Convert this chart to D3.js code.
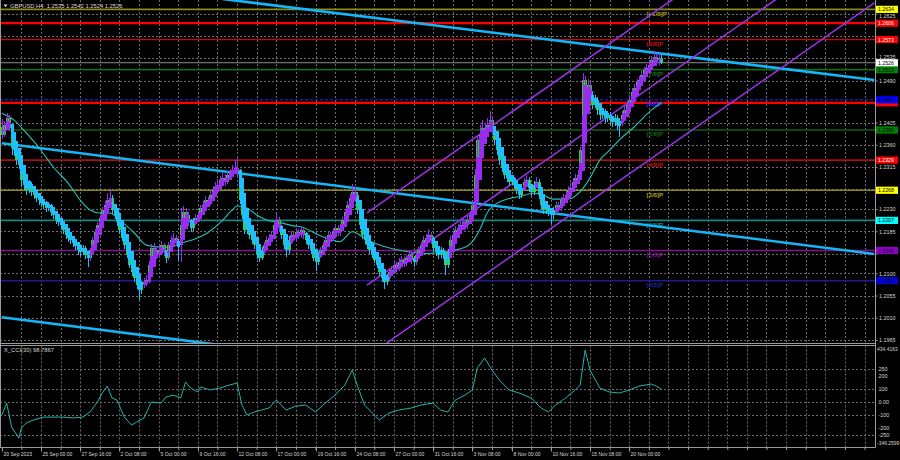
<!DOCTYPE html>
<html><head><meta charset="utf-8">
<script src="https://cdn.jsdelivr.net/npm/d3@7"></script>
<style>html,body{margin:0;padding:0;background:#000;}svg{display:block;}</style>
</head><body>
<svg id="c" width="900" height="460"></svg>
<script>
// ---------------- DATA ----------------
const symbolTitle = "GBPUSD,H4  1.2535 1.2542 1.2524 1.2526";
const cciTitle = "X_CCI(30) 98.7867";
const firstOpen = 1.2395;
const closes = [
1.2380,1.2400,1.2414,1.2394,1.2354,1.2349,1.2329,1.2319,1.2289,1.2279,
1.2269,1.2279,1.2265,1.2259,1.2253,1.2248,1.2242,1.2238,1.2232,1.2236,
1.2224,1.2218,1.2208,1.2204,1.2198,1.2188,1.2178,1.2172,1.2168,1.2162,
1.2155,1.2147,1.2143,1.2151,1.2137,1.2131,1.2147,1.2168,1.2184,1.2198,
1.2212,1.2228,1.2238,1.2248,1.2253,1.2228,1.2218,1.2204,1.2188,1.2172,
1.2157,1.2137,1.2117,1.2103,1.2091,1.2077,1.2067,1.2077,1.2083,1.2087,
1.2117,1.2151,1.2147,1.2137,1.2147,1.2157,1.2143,1.2131,1.2157,1.2168,
1.2172,1.2164,1.2157,1.2198,1.2224,1.2218,1.2204,1.2192,1.2204,1.2212,
1.2218,1.2232,1.2238,1.2248,1.2244,1.2259,1.2269,1.2275,1.2279,1.2289,
1.2293,1.2285,1.2299,1.2305,1.2309,1.2313,1.2305,1.2248,1.2218,1.2188,
1.2192,1.2178,1.2168,1.2157,1.2137,1.2131,1.2147,1.2157,1.2168,1.2172,
1.2178,1.2198,1.2208,1.2192,1.2178,1.2157,1.2147,1.2168,1.2178,1.2172,
1.2184,1.2178,1.2188,1.2178,1.2168,1.2157,1.2147,1.2131,1.2123,1.2137,
1.2147,1.2157,1.2168,1.2178,1.2172,1.2184,1.2192,1.2184,1.2192,1.2208,
1.2224,1.2238,1.2253,1.2265,1.2259,1.2228,1.2198,1.2178,1.2168,1.2157,
1.2147,1.2137,1.2127,1.2117,1.2103,1.2091,1.2083,1.2091,1.2103,1.2107,
1.2117,1.2111,1.2123,1.2127,1.2121,1.2131,1.2137,1.2127,1.2123,1.2137,
1.2147,1.2157,1.2168,1.2172,1.2178,1.2168,1.2151,1.2143,1.2137,1.2147,
1.2137,1.2117,1.2143,1.2168,1.2178,1.2188,1.2192,1.2198,1.2204,1.2198,
1.2208,1.2218,1.2238,1.2299,1.2370,1.2380,1.2394,1.2390,1.2400,1.2410,
1.2390,1.2370,1.2349,1.2329,1.2313,1.2299,1.2293,1.2285,1.2289,1.2279,
1.2269,1.2259,1.2273,1.2285,1.2289,1.2273,1.2265,1.2279,1.2285,1.2259,
1.2238,1.2228,1.2232,1.2224,1.2218,1.2228,1.2238,1.2232,1.2248,1.2253,
1.2259,1.2269,1.2273,1.2285,1.2293,1.2299,1.2349,1.2491,1.2471,1.2481,
1.2461,1.2441,1.2451,1.2430,1.2420,1.2426,1.2414,1.2420,1.2410,1.2406,
1.2414,1.2400,1.2406,1.2420,1.2430,1.2441,1.2451,1.2467,1.2475,1.2487,
1.2491,1.2501,1.2511,1.2515,1.2521,1.2532,1.2538,1.2532,1.2535,1.2526];
const highs = [
1.2412,1.2408,1.2424,1.2420,1.2398,1.2362,1.2355,1.2336,1.2324,1.2296,
1.2284,1.2288,1.2285,1.2272,1.2266,1.2260,1.2255,1.2250,1.2246,1.2244,
1.2240,1.2230,1.2224,1.2215,1.2210,1.2204,1.2194,1.2185,1.2180,1.2174,
1.2168,1.2160,1.2154,1.2158,1.2156,1.2142,1.2152,1.2174,1.2190,1.2204,
1.2218,1.2234,1.2246,1.2262,1.2270,1.2258,1.2236,1.2224,1.2210,1.2194,
1.2178,1.2163,1.2143,1.2124,1.2110,1.2097,1.2082,1.2085,1.2090,1.2096,
1.2124,1.2160,1.2162,1.2152,1.2156,1.2166,1.2162,1.2148,1.2164,1.2176,
1.2182,1.2178,1.2170,1.2232,1.2236,1.2232,1.2224,1.2210,1.2212,1.2220,
1.2226,1.2238,1.2246,1.2256,1.2254,1.2266,1.2276,1.2284,1.2290,1.2296,
1.2302,1.2300,1.2306,1.2312,1.2320,1.2330,1.2335,1.2310,1.2256,1.2224,
1.2200,1.2198,1.2184,1.2175,1.2162,1.2142,1.2154,1.2164,1.2175,1.2180,
1.2186,1.2206,1.2222,1.2214,1.2198,1.2184,1.2162,1.2175,1.2186,1.2184,
1.2192,1.2190,1.2196,1.2192,1.2184,1.2174,1.2163,1.2152,1.2138,1.2144,
1.2154,1.2164,1.2175,1.2186,1.2184,1.2192,1.2200,1.2198,1.2200,1.2214,
1.2230,1.2246,1.2260,1.2280,1.2274,1.2264,1.2234,1.2204,1.2184,1.2174,
1.2163,1.2153,1.2143,1.2133,1.2123,1.2109,1.2097,1.2098,1.2110,1.2115,
1.2124,1.2122,1.2130,1.2134,1.2132,1.2138,1.2145,1.2142,1.2134,1.2144,
1.2154,1.2164,1.2175,1.2180,1.2190,1.2184,1.2174,1.2158,1.2150,1.2154,
1.2152,1.2142,1.2150,1.2175,1.2186,1.2196,1.2200,1.2206,1.2212,1.2210,
1.2216,1.2226,1.2246,1.2310,1.2380,1.2400,1.2410,1.2405,1.2415,1.2428,
1.2418,1.2396,1.2376,1.2355,1.2335,1.2320,1.2306,1.2300,1.2296,1.2294,
1.2284,1.2274,1.2280,1.2292,1.2298,1.2294,1.2280,1.2286,1.2294,1.2290,
1.2264,1.2244,1.2240,1.2238,1.2230,1.2235,1.2245,1.2244,1.2255,1.2260,
1.2266,1.2276,1.2282,1.2292,1.2300,1.2308,1.2356,1.2505,1.2500,1.2494,
1.2488,1.2468,1.2460,1.2456,1.2438,1.2434,1.2432,1.2428,1.2426,1.2418,
1.2422,1.2420,1.2414,1.2428,1.2438,1.2448,1.2460,1.2474,1.2484,1.2494,
1.2500,1.2510,1.2518,1.2524,1.2530,1.2540,1.2550,1.2546,1.2546,1.2542];
const lows = [
1.2372,1.2375,1.2396,1.2388,1.2340,1.2338,1.2320,1.2310,1.2275,1.2268,
1.2258,1.2262,1.2256,1.2250,1.2245,1.2238,1.2234,1.2230,1.2224,1.2226,
1.2216,1.2209,1.2200,1.2196,1.2190,1.2180,1.2170,1.2164,1.2160,1.2153,
1.2147,1.2138,1.2134,1.2136,1.2128,1.2112,1.2125,1.2142,1.2162,1.2178,
1.2192,1.2206,1.2222,1.2232,1.2240,1.2220,1.2210,1.2196,1.2180,1.2165,
1.2150,1.2130,1.2110,1.2095,1.2083,1.2068,1.2045,1.2058,1.2070,1.2074,
1.2080,1.2112,1.2138,1.2128,1.2130,1.2140,1.2134,1.2120,1.2126,1.2150,
1.2160,1.2156,1.2125,1.2122,1.2190,1.2208,1.2195,1.2184,1.2186,1.2198,
1.2205,1.2212,1.2226,1.2232,1.2236,1.2238,1.2252,1.2262,1.2268,1.2272,
1.2282,1.2276,1.2280,1.2292,1.2298,1.2302,1.2296,1.2240,1.2210,1.2180,
1.2180,1.2170,1.2160,1.2150,1.2128,1.2122,1.2126,1.2140,1.2150,1.2160,
1.2164,1.2172,1.2192,1.2184,1.2170,1.2150,1.2132,1.2140,1.2160,1.2165,
1.2166,1.2170,1.2172,1.2170,1.2160,1.2150,1.2140,1.2124,1.2105,1.2116,
1.2130,1.2140,1.2150,1.2160,1.2165,1.2166,1.2176,1.2176,1.2176,1.2186,
1.2202,1.2218,1.2232,1.2246,1.2250,1.2220,1.2190,1.2170,1.2160,1.2150,
1.2140,1.2130,1.2120,1.2110,1.2095,1.2083,1.2068,1.2076,1.2085,1.2096,
1.2100,1.2102,1.2105,1.2116,1.2113,1.2114,1.2124,1.2118,1.2112,1.2116,
1.2130,1.2140,1.2150,1.2160,1.2165,1.2160,1.2144,1.2135,1.2128,1.2130,
1.2128,1.2097,1.2110,1.2138,1.2160,1.2170,1.2180,1.2185,1.2190,1.2190,
1.2190,1.2200,1.2210,1.2232,1.2292,1.2360,1.2372,1.2378,1.2382,1.2392,
1.2380,1.2360,1.2340,1.2320,1.2304,1.2290,1.2284,1.2276,1.2278,1.2270,
1.2260,1.2250,1.2252,1.2266,1.2278,1.2265,1.2256,1.2258,1.2272,1.2250,
1.2230,1.2220,1.2220,1.2215,1.2200,1.2210,1.2220,1.2224,1.2226,1.2240,
1.2246,1.2252,1.2262,1.2266,1.2278,1.2286,1.2292,1.2340,1.2462,1.2464,
1.2452,1.2432,1.2434,1.2420,1.2410,1.2412,1.2405,1.2406,1.2400,1.2396,
1.2398,1.2390,1.2375,1.2398,1.2412,1.2422,1.2432,1.2444,1.2460,1.2468,
1.2480,1.2484,1.2494,1.2504,1.2508,1.2514,1.2524,1.2520,1.2522,1.2524];

// moving average: bar index / value
const maIdx = [0,5,10,16,21,27,32,36,40,44,48,54,59,65,69,73,78,84,89,94,96,100,104,108,114,119,122,130,138,143,149,156,165,173,182,190,192,195,198,201,206,211,217,220,225,231,236,240,244,248,252,258,265,269];
const maVal = [1.2424,1.2410,1.2384,1.2349,1.2315,1.2283,1.2248,1.2228,1.2222,1.2222,1.2208,1.2182,1.2157,1.2153,1.2153,1.2161,1.2168,1.2182,1.2202,1.2228,1.2236,1.2232,1.2218,1.2208,1.2202,1.2196,1.2194,1.2176,1.2164,1.2184,1.2168,1.2154,1.2144,1.2140,1.2144,1.2155,1.2164,1.2188,1.2222,1.2238,1.2250,1.2255,1.2262,1.2260,1.2250,1.2250,1.2265,1.2293,1.2329,1.2349,1.2370,1.2396,1.2430,1.2445];

// CCI(30): bar index / value
const cciIdx = [0,2,4,7,8,10,13,17,21,25,29,33,36,39,41,43,45,47,50,53,55,58,61,65,67,70,73,75,77,80,81,85,89,93,96,98,100,103,106,109,112,116,120,124,128,132,136,140,143,145,148,154,158,162,167,171,176,179,182,185,189,192,194,197,200,203,207,211,216,220,223,226,230,234,236,238,240,244,248,252,256,260,265,267,269];
const cciVal = [-99,-8,-191,-275,-198,-160,-137,-115,-115,-115,-122,-115,-76,0,69,122,31,15,-115,-176,-153,-122,0,-8,38,53,31,153,107,76,115,92,107,130,145,-23,-99,-76,-61,-46,15,-61,-31,-23,-76,-8,53,130,244,130,-23,-137,-84,-61,-46,-23,-8,-61,-76,15,53,92,260,336,244,168,92,69,31,-46,-76,-23,31,92,130,397,244,107,76,69,92,122,137,122,98.8];

// price axis tick values (grid)
const priceTicks = [1.2625,1.2580,1.2535,1.2490,1.2445,1.2405,1.2360,1.2315,1.2270,1.2230,1.2185,1.2140,1.2100,1.2055,1.2010,1.1965];
// time axis labels (one every 16 H4 bars, starting at first bar)
const timeLabels = ["20 Sep 2023","25 Sep 00:00","27 Sep 16:00","2 Oct 08:00","5 Oct 00:00","9 Oct 16:00","12 Oct 08:00","17 Oct 00:00","19 Oct 16:00","24 Oct 08:00","27 Oct 00:00","31 Oct 16:00","3 Nov 08:00","8 Nov 00:00","10 Nov 16:00","15 Nov 08:00","20 Nov 00:00"];
// CCI axis labels
const cciTicks = [434.4163,250,200,100,0,-100,-200,-250,-346.2599];
const cciTickText = ["434.4163","250","200","100","0.00","-100","-200","-250","-346.2599"];
const cciLevels = [250,100,0,-100,-250];

// Murray math levels
const murrayVals = [1.2085,1.2146,1.2207,1.2268,1.2329,1.2390,1.2451,1.2512,1.2573,1.2634];
const murrayNames = ["[0/8]P","[1/8]P","[2/8]P","[3/8]P","[4/8]P","[5/8]P","[6/8]P","[7/8]P","[8/8]P","[+1/8]P"];
// manual horizontal levels
const redLevels = [1.2606, 1.2445];
const lastPrice = 1.2526;

// trend lines: [startIdx, startPrice, endIdx, endPrice]
const trendLines = [[90,1.2655,356,1.2491],[0,1.2363,356,1.2139],[0,1.2011,356,1.1787]];
const channelLines = [[149,1.2222,356,1.2939],[149,1.2076,356,1.2793],[149,1.1931,356,1.2647]];

// ---------------- STYLE ----------------
const murrayLineColors = ["#1c1c8c","#85128c","#138585","#8a8a14","#a61010","#135c13","#2828ff","#146a14","#b01212","#8a8a14"];
const murrayBoxColors  = ["#0000e0","#9000c8","#00ffff","#ffff00","#ff0000","#008000","#0000ff","#008000","#ff0000","#ffff00"];
const murrayBoxText    = ["#000","#000","#000","#000","#fff","#000","#000","#000","#fff","#000"];
const murrayTextColors = ["#20209a","#80108a","#128080","#a0a010","#c01010","#176017","#2a2aff","#1a6e1a","#c01010","#a0a010"];
const FONT = "'Liberation Sans', Arial, sans-serif";
const AXF = 5.4;
const UP="#9a2cf2", DOWN="#1ec0ff", REAL="#2ed12e";

// ---------------- LAYOUT ----------------
const svg = d3.select("#c");
const plotR = 875.5, mainB = 343, cciT = 345.5, cciB = 447.5;
const x = d3.scaleLinear().domain([0,269]).range([1.78, 1.78+269*2.451]);
const y = d3.scaleLinear().domain([1.1965,1.2535]).range([340,58.3]);
const yc = d3.scaleLinear().domain([-346.2599,434.4163]).range([447.4,345.1]);

svg.append("rect").attr("width",900).attr("height",460).attr("fill","#000");
const defs = svg.append("defs");
defs.append("clipPath").attr("id","cm").append("rect").attr("x",0).attr("y",0).attr("width",plotR).attr("height",mainB);
defs.append("clipPath").attr("id","cc").append("rect").attr("x",0).attr("y",cciT).attr("width",plotR).attr("height",cciB-cciT);

const main = svg.append("g").attr("clip-path","url(#cm)");
const cci = svg.append("g").attr("clip-path","url(#cc)");

// grid
const gridIdx = d3.range(8, 356, 8);
const gridColor = "#6c6c6c";
[ [main,0,mainB], [cci,cciT,cciB] ].forEach(([g,t,b])=>{
  g.append("g").selectAll("line").data(gridIdx).join("line")
   .attr("x1",d=>Math.round(x(d))+0.5).attr("x2",d=>Math.round(x(d))+0.5)
   .attr("y1",t).attr("y2",b).attr("stroke",gridColor).attr("stroke-width",1).attr("stroke-dasharray","2,2");
});
main.append("g").selectAll("line").data(priceTicks).join("line")
  .attr("x1",0).attr("x2",plotR).attr("y1",d=>Math.round(y(d))+0.5).attr("y2",d=>Math.round(y(d))+0.5)
  .attr("stroke",gridColor).attr("stroke-dasharray","2,2");
cci.append("g").selectAll("line").data(cciLevels).join("line")
  .attr("x1",0).attr("x2",plotR).attr("y1",d=>Math.round(yc(d))+0.5).attr("y2",d=>Math.round(yc(d))+0.5)
  .attr("stroke",gridColor).attr("stroke-dasharray","2,2");

// Murray lines
main.append("g").selectAll("line").data(murrayVals).join("line")
  .attr("x1",0).attr("x2",plotR).attr("y1",d=>y(d)).attr("y2",d=>y(d))
  .attr("stroke",(d,i)=>murrayLineColors[i]).attr("stroke-width",(d,i)=> i===6?1:1.6)
  .attr("stroke-dasharray",(d,i)=> i===6?"3,2":null);
// red manual levels
main.append("g").selectAll("line").data(redLevels).join("line")
  .attr("x1",0).attr("x2",plotR).attr("y1",d=>y(d)).attr("y2",d=>y(d))
  .attr("stroke","#ff0000").attr("stroke-width",2.2);
// last price line
main.append("line").attr("x1",0).attr("x2",plotR).attr("y1",y(lastPrice)).attr("y2",y(lastPrice))
  .attr("stroke","#8c8c8c").attr("stroke-width",1);

// Murray labels
main.append("g").selectAll("text").data(murrayVals).join("text")
  .attr("x",x(263)).attr("y",d=>y(d)+6.5)
  .attr("fill",(d,i)=>murrayTextColors[i]).attr("font-family",FONT).attr("font-size",6.2).attr("font-weight","bold")
  .text((d,i)=>murrayNames[i]);

// MA
const maLine = d3.line().x(d=>x(d[0])).y(d=>y(d[1])).curve(d3.curveMonotoneX);
main.append("path").attr("d",maLine(maIdx.map((d,i)=>[d,maVal[i]])))
  .attr("fill","none").attr("stroke","#22c2b8").attr("stroke-width",1.1);

// trend lines
main.append("g").selectAll("line").data(trendLines).join("line")
  .attr("x1",d=>x(d[0])).attr("y1",d=>y(d[1])).attr("x2",d=>x(d[2])).attr("y2",d=>y(d[3]))
  .attr("stroke","#14b6f6").attr("stroke-width",2.6);
main.append("g").selectAll("line").data(channelLines).join("line")
  .attr("x1",d=>x(d[0])).attr("y1",d=>y(d[1])).attr("x2",d=>x(d[2])).attr("y2",d=>y(d[3]))
  .attr("stroke","#9a34ea").attr("stroke-width",1.5);

// candles
const bars = closes.map((c,i)=>{
  const o = i===0 ? firstOpen : closes[i-1];
  return {i, o, h: highs[i], l: lows[i], c};
});
// Heiken Ashi overlay values
bars.forEach((b,i)=>{
  b.hc = (b.o+b.h+b.l+b.c)/4;
  b.ho = i===0 ? (b.o+b.c)/2 : (bars[i-1].ho + bars[i-1].hc)/2;
  b.hh = Math.max(b.h, b.ho, b.hc);
  b.hl = Math.min(b.l, b.ho, b.hc);
});
const cg = main.append("g").attr("shape-rendering","crispEdges");
cg.selectAll(".rw").data(bars).join("rect").attr("class","rw")
  .attr("x",d=>Math.round(x(d.i))).attr("width",1)
  .attr("y",d=>y(d.h)).attr("height",d=>Math.max(1,y(d.l)-y(d.h))).attr("fill",REAL);
cg.selectAll(".rb").data(bars).join("rect").attr("class","rb")
  .attr("x",d=>Math.round(x(d.i))-1).attr("width",3)
  .attr("y",d=>y(Math.max(d.o,d.c))).attr("height",d=>Math.max(1,Math.abs(y(d.o)-y(d.c)))).attr("fill",REAL);
cg.selectAll(".hw").data(bars).join("rect").attr("class","hw")
  .attr("x",d=>Math.round(x(d.i))).attr("width",1)
  .attr("y",d=>y(d.hh)).attr("height",d=>Math.max(1,y(d.hl)-y(d.hh)))
  .attr("fill",d=>d.hc>=d.ho?UP:DOWN);
cg.selectAll(".hb").data(bars).join("rect").attr("class","hb")
  .attr("x",d=>Math.round(x(d.i))-1).attr("width",3)
  .attr("y",d=>y(Math.max(d.ho,d.hc))).attr("height",d=>Math.max(1,Math.abs(y(d.ho)-y(d.hc))))
  .attr("fill",d=>d.hc>=d.ho?UP:DOWN);

// CCI line
const cciLine = d3.line().x(d=>x(d[0])).y(d=>yc(d[1]));
cci.append("path").attr("d",cciLine(cciIdx.map((d,i)=>[d,cciVal[i]])))
  .attr("fill","none").attr("stroke","#22b4ac").attr("stroke-width",1);

// borders
const bc = "#9a9a9a";
svg.append("line").attr("x1",0.5).attr("x2",0.5).attr("y1",0).attr("y2",cciB).attr("stroke",bc);
svg.append("line").attr("x1",plotR).attr("x2",plotR).attr("y1",0).attr("y2",cciB).attr("stroke",bc);
svg.append("line").attr("x1",0).attr("x2",plotR).attr("y1",mainB+0.5).attr("y2",mainB+0.5).attr("stroke",bc);
svg.append("line").attr("x1",0).attr("x2",plotR).attr("y1",cciT).attr("y2",cciT).attr("stroke",bc);
svg.append("line").attr("x1",0).attr("x2",plotR).attr("y1",cciB).attr("y2",cciB).attr("stroke",bc);

// price boxes list (hidden = box lies under another box, its text is not visible)
const boxes = [];
murrayVals.forEach((v,i)=>boxes.push({v, fill: murrayBoxColors[i], tc: murrayBoxText[i]}));
boxes.splice(6,0,{v:redLevels[1], fill:"#ff0000", tc:"#fff", hidden:true});
boxes.push({v:redLevels[0], fill:"#ff0000", tc:"#fff"});
boxes.push({v:lastPrice, fill:"#ffffff", tc:"#000"});

// price axis (labels hidden by a price box are not printed, as in the terminal)
const visibleTicks = priceTicks.filter(t => boxes.every(b => Math.abs(y(b.v)-y(t)) > 4.2));
const pa = svg.append("g").attr("transform",`translate(${plotR},0)`)
  .call(d3.axisRight(y).tickValues(priceTicks).tickFormat(d => visibleTicks.includes(d) ? d3.format(".4f")(d) : "").tickSize(2).tickPadding(1.5));
pa.select(".domain").remove();
pa.selectAll("line").attr("stroke",bc);
pa.selectAll("text").attr("fill","#d6d6d6").attr("font-family",FONT).attr("font-size",AXF).attr("dy","0.35em")
  .attr("y", d => {
    // nudge a label that sits right next to a price box away from it
    const near = boxes.find(b => Math.abs(y(b.v)-y(d)) < 6);
    return near ? (y(d) < y(near.v) ? -1.3 : 1.3) : 0;
  });
pa.selectAll("text").filter(function(){return this.textContent==="";}).remove();

// price boxes
const bx = svg.append("g");
const bgs = bx.selectAll("g").data(boxes).join("g").attr("transform",d=>`translate(${plotR+0.5},${y(d.v)})`);
bgs.append("rect").attr("x",0).attr("y",-3.6).attr("width",22).attr("height",7.2).attr("fill",d=>d.fill);
bgs.filter(d=>!d.hidden).append("text").attr("x",2).attr("y",0.2).attr("dy","0.35em").attr("fill",d=>d.tc)
  .attr("font-family",FONT).attr("font-size",AXF-0.2).text(d=>d3.format(".4f")(d.v));

// CCI axis
const ca = svg.append("g").attr("transform",`translate(${plotR},0)`);
cciTicks.forEach((v,i)=>{
  const yy = yc(v) + (i===0 ? 4 : (i===cciTicks.length-1 ? -4 : 0));
  const long = cciTickText[i].length > 6;
  ca.append("text").attr("transform",`translate(${long?1.5:3},${yy}) scale(${long?0.92:1},1)`)
    .attr("dy","0.35em").attr("fill","#d6d6d6")
    .attr("font-family",FONT).attr("font-size",AXF).text(cciTickText[i]);
});

// time axis
const labelIdx = timeLabels.map((d,k)=>k*16);
const ta = svg.append("g").attr("transform",`translate(0,${cciB})`)
  .call(d3.axisBottom(x).tickValues(gridIdx.concat([0])).tickSize(2.5).tickFormat(""));
ta.select(".domain").remove();
ta.selectAll("line").attr("stroke",bc);
const tl = svg.append("g");
timeLabels.forEach((t,k)=>{
  const xx = Math.round(x(labelIdx[k]));
  tl.append("line").attr("x1",xx+0.5).attr("x2",xx+0.5).attr("y1",cciB).attr("y2",cciB+4).attr("stroke",bc);
  tl.append("text").attr("transform",`translate(${xx+1.5},${cciB+8.5}) scale(0.9,1)`)
    .attr("fill","#d6d6d6").attr("font-family",FONT).attr("font-size",AXF+0.2).text(t);
});

// titles
svg.append("path").attr("d","M3.5,4.5 L7.5,4.5 L5.5,7.2 Z").attr("fill","#d8d8d8");
svg.append("text").attr("x",10).attr("y",8.2).attr("fill","#d8d8d8").attr("font-family",FONT)
  .attr("font-size",5.8).attr("xml:space","preserve").text(symbolTitle);
svg.append("text").attr("x",4).attr("y",352).attr("fill","#d8d8d8").attr("font-family",FONT)
  .attr("font-size",5.8).text(cciTitle);
</script>
</body></html>
